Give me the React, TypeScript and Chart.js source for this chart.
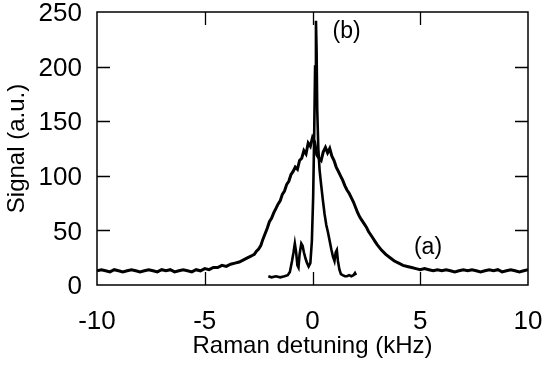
import { useEffect, useRef } from "react";
import { Chart, registerables } from "chart.js";

Chart.register(...registerables);

// ---- data ----
const xTickValues = [-10, -5, 0, 5, 10];
const yTickValues = [0, 50, 100, 150, 200, 250];
const xTitle = "Raman detuning (kHz)";
const yTitle = "Signal (a.u.)";

// curve (a): broad spectrum
const aX = [
  -10, -9.8, -9.6, -9.4, -9.2, -9, -8.8, -8.6, -8.4, -8.2, -8, -7.8, -7.6, -7.4, -7.2, -7,
  -6.8, -6.6, -6.4, -6.2, -6, -5.8, -5.6, -5.4, -5.2, -5, -4.8, -4.6, -4.4, -4.2, -4, -3.8,
  -3.6, -3.4, -3.2,
  -3, -2.9, -2.8, -2.7, -2.6, -2.5, -2.4, -2.3, -2.2, -2.1, -2, -1.9, -1.8, -1.7, -1.6, -1.5,
  -1.4, -1.3, -1.2, -1.1, -1, -0.9, -0.8, -0.7, -0.6, -0.5, -0.4, -0.3, -0.2, -0.1, 0, 0.1,
  0.2, 0.3, 0.4, 0.5, 0.6, 0.7, 0.8, 0.9, 1, 1.1, 1.2, 1.3, 1.4, 1.5, 1.6, 1.7, 1.8, 1.9, 2,
  2.1, 2.2, 2.3, 2.4, 2.5, 2.6, 2.7, 2.8, 2.9, 3,
  3.2, 3.4, 3.6, 3.8, 4, 4.2, 4.4, 4.6, 4.8, 5, 5.2, 5.4, 5.6, 5.8, 6, 6.2, 6.4, 6.6, 6.8, 7,
  7.2, 7.4, 7.6, 7.8, 8, 8.2, 8.4, 8.6, 8.8, 9, 9.2, 9.4, 9.6, 9.8, 10,
];
const aY = [
  13, 14, 13, 12, 14, 13, 12, 13, 14, 13, 12, 13, 14, 13, 12, 14,
  13, 14, 12, 13, 14, 13, 12, 14, 13, 15, 14, 16, 16, 18, 17, 19,
  20, 21, 23,
  25, 26, 27, 28, 31, 33, 36, 42, 47, 52, 58, 61, 66, 70, 74, 77,
  83, 86, 92, 95, 101, 104, 108, 106, 114, 116, 123, 120, 130, 127, 135, 131,
  119, 116, 114, 122, 126, 121, 125, 118, 114, 108, 104, 100, 96, 91, 87, 84, 80, 76, 71,
  66, 62, 59, 56, 53, 49, 46, 43, 40, 37,
  32, 28, 25, 22, 20, 18, 17, 16, 15, 14, 15, 14, 13, 14, 13, 14, 13, 12, 13, 14,
  13, 14, 13, 12, 13, 14, 13, 14, 12, 13, 14, 13, 12, 13, 14,
];

// curve (b): narrow spectrum
const bX = [
  -2.05, -1.9, -1.7, -1.5, -1.3, -1.15, -1.05, -0.95, -0.88, -0.82, -0.76, -0.7, -0.65,
  -0.6, -0.52, -0.46, -0.4, -0.32, -0.25, -0.18, -0.1, -0.03, 0.03, 0.08, 0.12, 0.16, 0.19,
  0.22, 0.27, 0.33, 0.4, 0.48, 0.56, 0.64, 0.72, 0.8, 0.88, 0.95, 1.02, 1.08, 1.13, 1.18,
  1.25, 1.32, 1.4, 1.5, 1.6, 1.7, 1.8, 1.9, 1.97, 2.02,
];
const bY = [
  8, 7, 8, 7, 8, 9, 12, 22, 30, 38, 30, 18, 16,
  28, 38, 36, 30, 24, 20, 17, 20, 40, 80, 140, 200, 242, 215,
  160, 125, 105, 92, 78, 65, 55, 48, 40, 32, 26, 22, 30, 32, 22,
  14, 10, 9, 8, 8, 9, 8, 9, 11, 9,
];

const curveLabels = [
  { text: "(a)", x: 5.36, y: 34 },
  { text: "(b)", x: 1.58, y: 232 },
];

const FONT = "'Liberation Sans', Arial, Helvetica, sans-serif";

const framePlugin = {
  id: "frameTicks",
  afterDatasetsDraw(chart: any) {
    const { ctx, chartArea, scales } = chart;
    const { left, right, top, bottom } = chartArea;
    const xs = scales.x;
    const ys = scales.y;
    ctx.save();
    ctx.strokeStyle = "#000";
    ctx.lineWidth = 1.5;
    ctx.strokeRect(left, top, right - left, bottom - top);
    ctx.lineWidth = 1.3;
    const tl = 13;
    ctx.beginPath();
    for (const t of xs.ticks) {
      const px = Math.round(xs.getPixelForValue(t.value)) + 0.5;
      if (px <= left + 2 || px >= right - 2) continue;
      ctx.moveTo(px, bottom);
      ctx.lineTo(px, bottom - tl);
      ctx.moveTo(px, top);
      ctx.lineTo(px, top + tl);
    }
    for (const t of ys.ticks) {
      const py = Math.round(ys.getPixelForValue(t.value)) + 0.5;
      if (py <= top + 2 || py >= bottom - 2) continue;
      ctx.moveTo(left, py);
      ctx.lineTo(left + tl, py);
      ctx.moveTo(right, py);
      ctx.lineTo(right - tl, py);
    }
    ctx.stroke();
    ctx.fillStyle = "#000";
    ctx.font = `23px ${FONT}`;
    ctx.textAlign = "center";
    ctx.textBaseline = "middle";
    for (const l of curveLabels) {
      ctx.fillText(l.text, xs.getPixelForValue(l.x), ys.getPixelForValue(l.y));
    }
    ctx.restore();
  },
};

export default function App() {
  const canvasRef = useRef<HTMLCanvasElement | null>(null);

  useEffect(() => {
    document.body.style.margin = "0";
    const canvas = canvasRef.current;
    if (!canvas) return;
    const chart = new Chart(canvas, {
      type: "line",
      data: {
        datasets: [
          {
            label: "(a)",
            data: aX.map((x, i) => ({ x, y: aY[i] })),
            borderColor: "#000",
            borderWidth: 3,
            pointRadius: 0,
            tension: 0,
            fill: false,
          },
          {
            label: "(b)",
            data: bX.map((x, i) => ({ x, y: bY[i] })),
            borderColor: "#000",
            borderWidth: 2.6,
            pointRadius: 0,
            tension: 0,
            fill: false,
          },
        ],
      },
      options: {
        animation: false,
        responsive: false,
        devicePixelRatio: 1,
        layout: { padding: { top: 12, right: 17, left: 0, bottom: 0 } },
        plugins: {
          legend: { display: false },
          tooltip: { enabled: false },
        },
        scales: {
          x: {
            type: "linear",
            min: -10,
            max: 10,
            afterBuildTicks: (s: any) => {
              s.ticks = xTickValues.map((v) => ({ value: v }));
            },
            afterFit: (s: any) => {
              s.height = 82;
              s.paddingLeft = 0;
              s.paddingRight = 0;
            },
            grid: { display: false, drawTicks: false },
            border: { display: false },
            ticks: {
              color: "#000",
              font: { size: 26, family: FONT },
              padding: 21,
              maxRotation: 0,
              autoSkip: false,
              callback: (v: any) => String(v),
            },
            title: {
              display: true,
              text: xTitle,
              color: "#000",
              font: { size: 24, family: FONT },
              padding: { top: 0, bottom: 6 },
            },
          },
          y: {
            type: "linear",
            min: 0,
            max: 250,
            afterBuildTicks: (s: any) => {
              s.ticks = yTickValues.map((v) => ({ value: v }));
            },
            afterFit: (s: any) => {
              s.width = 97;
              s.paddingTop = 0;
              s.paddingBottom = 0;
            },
            grid: { display: false, drawTicks: false },
            border: { display: false },
            ticks: {
              color: "#000",
              font: { size: 26, family: FONT },
              padding: 15,
              labelOffset: 2,
              autoSkip: false,
              callback: (v: any) => String(v),
            },
            title: {
              display: true,
              text: yTitle,
              color: "#000",
              font: { size: 24, family: FONT },
              padding: { top: 3, bottom: 0 },
            },
          },
        },
      },
      plugins: [framePlugin],
    });
    return () => chart.destroy();
  }, []);

  return (
    <div style={{ position: "absolute", left: 0, top: 0 }}>
      <canvas ref={canvasRef} width={545} height={367} style={{ display: "block" }} />
    </div>
  );
}
